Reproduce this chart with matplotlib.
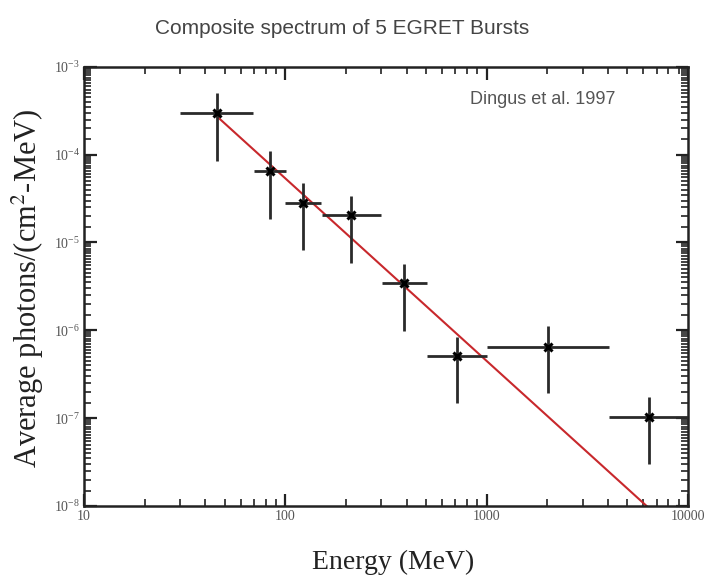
import matplotlib
matplotlib.use("Agg")
import matplotlib.pyplot as plt
from matplotlib.ticker import LogLocator, LogFormatterMathtext, NullFormatter, FixedLocator
import numpy as np

# ---- data ----
energy = [45.6, 83.9, 122.8, 211.8, 388.0, 710.0, 2023.0, 6400.0]
energy_lo = [30.0, 69.8, 100.0, 152.0, 301.0, 503.0, 1000.0, 4040.0]
energy_hi = [68.9, 100.7, 151.0, 300.0, 503.0, 1000.0, 4040.0, 10000.0]
flux = [3.0e-4, 6.55e-5, 2.79e-5, 2.04e-5, 3.43e-6, 5.1e-7, 6.5e-7, 1.03e-7]
flux_hi = [4.97e-4, 1.09e-4, 4.71e-5, 3.38e-5, 5.69e-6, 8.45e-7, 1.12e-6, 1.73e-7]
flux_lo = [8.5e-5, 1.86e-5, 8.2e-6, 5.87e-6, 9.9e-7, 1.5e-7, 1.92e-7, 3.0e-8]
fit_energy = [45.9, 6230.0]
fit_flux = [2.70e-4, 1.0e-8]

title = "Composite spectrum of 5 EGRET Bursts"
annotation = "Dingus et al. 1997"
xlabel = "Energy (MeV)"
ylabel = "Average photons/(cm$^2$-MeV)"

plt.rcParams['mathtext.fontset'] = 'stix'

fig = plt.figure(figsize=(7.19, 5.75), dpi=100)
ax = fig.add_axes([84/719, 1-506/575, (688-84)/719, (506-66.7)/575])

E = np.array(energy)
F = np.array(flux)
xerr = [E - np.array(energy_lo), np.array(energy_hi) - E]
yerr = [F - np.array(flux_lo), np.array(flux_hi) - F]

ax.plot(fit_energy, fit_flux, color='#c8282c', lw=1.5, zorder=2)
ax.errorbar(E, F, xerr=xerr, yerr=yerr, fmt='none', ecolor='#2a2a2a',
            elinewidth=2.0, capsize=0, zorder=3)
ax.plot(E, F, linestyle='none', marker='x', color='black', ms=6, mew=2.2, zorder=4)

ax.set_xscale('log')
ax.set_yscale('log')
ax.set_xlim(10, 10000)
ax.set_ylim(1e-8, 1e-3)

for s in ax.spines.values():
    s.set_linewidth(1.8)
    s.set_color('#222222')

ax.xaxis.set_major_locator(FixedLocator([10, 100, 1000, 10000]))
ax.xaxis.set_major_formatter(plt.FuncFormatter(lambda v, p: f"{int(round(v))}"))
ax.xaxis.set_minor_locator(LogLocator(base=10, subs=np.arange(2, 10)))
ax.xaxis.set_minor_formatter(NullFormatter())
ax.yaxis.set_major_locator(LogLocator(base=10, numticks=10))
ax.yaxis.set_major_formatter(LogFormatterMathtext())
ax.yaxis.set_minor_locator(LogLocator(base=10, subs=np.arange(1.0, 10.0, 0.5), numticks=20))
ax.yaxis.set_minor_formatter(NullFormatter())

ax.tick_params(which='both', direction='in', top=True, right=True, color='#222222')
ax.tick_params(which='major', length=9, width=1.6, labelsize=10, labelcolor='#555555', pad=3)
ax.tick_params(which='minor', length=5, width=1.2)
for lab in ax.get_xticklabels() + ax.get_yticklabels():
    lab.set_family('Liberation Serif')

ax.set_xlabel(xlabel, family='Liberation Serif', fontsize=20, color='#222222', va='top')
ax.xaxis.set_label_coords(0.512, -0.1)
ax.set_ylabel(ylabel, family='Liberation Serif', fontsize=22, color='#222222')
ax.yaxis.set_label_coords(-0.063, 0.495)

ax.text((470-84)/604, (506-99)/439.3, annotation, transform=ax.transAxes, fontsize=13,
        family='Liberation Sans', color='#555555', ha='left', va='center')
fig.text(342/719, 1-28/575, title, fontsize=15, family='Liberation Sans',
         color='#444444', ha='center', va='center')

fig.savefig('out.png', dpi=100, facecolor='white')
